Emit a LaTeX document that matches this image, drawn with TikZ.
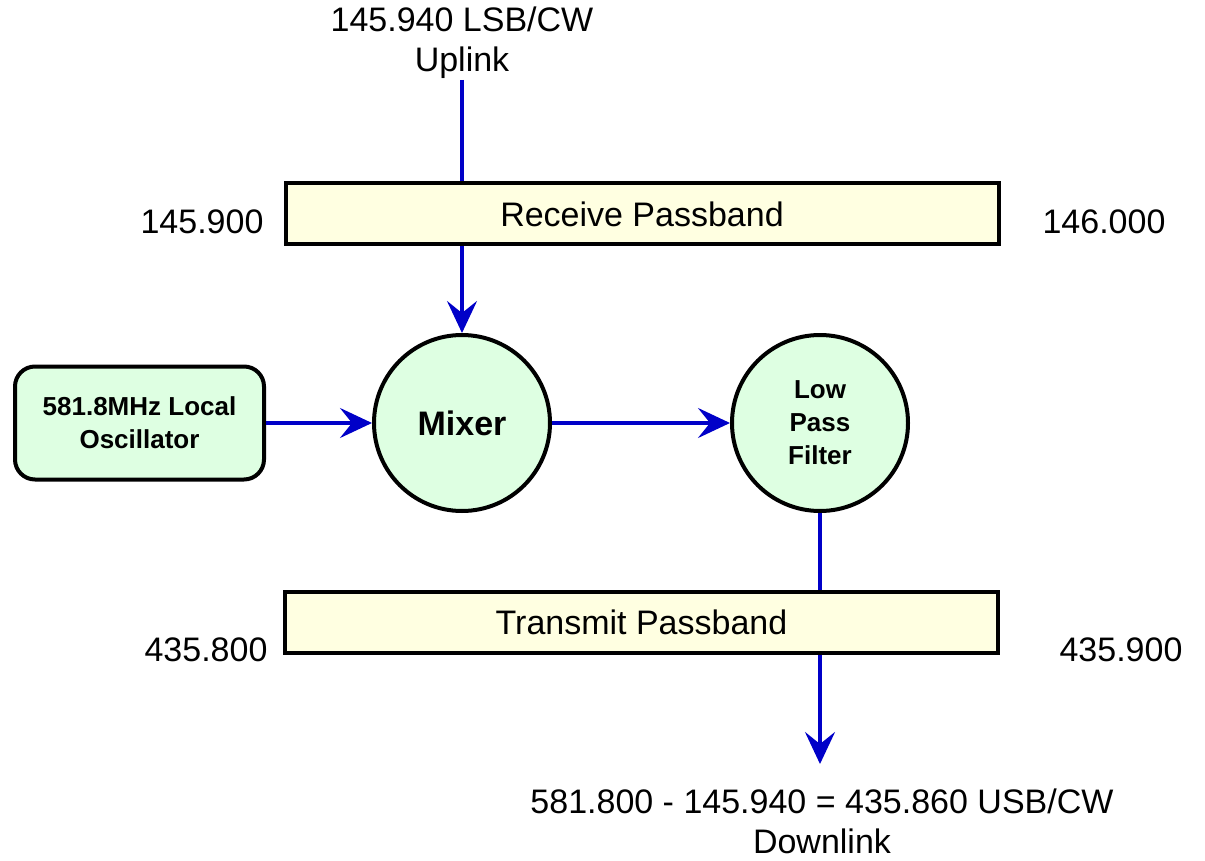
\documentclass[tikz,border=0pt]{standalone}
\usepackage{fontspec}
\setmainfont{Liberation Sans}
\usetikzlibrary{arrows.meta}
\definecolor{sigblue}{RGB}{0,0,200}
\definecolor{bandfill}{RGB}{255,255,225}
\definecolor{nodefill}{RGB}{222,255,226}
\begin{document}
\begin{tikzpicture}[x=1pt,y=-1pt,
  band/.style={draw=black,line width=4pt,fill=bandfill,minimum width=713pt,minimum height=61pt,inner sep=0pt,font=\fontsize{34}{41}\selectfont},
  disc/.style={circle,draw=black,line width=4pt,fill=nodefill,minimum size=176pt,inner sep=0pt},
  osc/.style={draw=black,line width=4pt,fill=nodefill,rounded corners=20pt,minimum width=249pt,minimum height=113pt,inner sep=0pt,align=center,font=\bfseries\fontsize{26}{33}\selectfont},
  lbl/.style={font=\fontsize{34}{40}\selectfont,align=center,inner sep=0pt},
  sig/.style={draw=sigblue,line width=3.5pt},
  sigarrow/.style={sig,-{Stealth[length=32pt,width=30pt,inset=12pt]}}
]
\useasboundingbox (0,0) rectangle (1205,861);
\node[band] (rx) at (642,214) {Receive Passband};
\node[band] (tx) at (641.5,622) {Transmit Passband};
\node[lbl] (rxlo) at (202,222) {145.900};
\node[lbl] (rxhi) at (1104,222) {146.000};
\node[lbl] (txlo) at (206,650) {435.800};
\node[lbl] (txhi) at (1121,650) {435.900};
\node[lbl,anchor=south] (up) at (462,79) {145.940 LSB/CW\\Uplink};
\node[lbl,anchor=north] (down) at (822,789) {581.800 - 145.940 = 435.860 USB/CW\\Downlink};
\node[disc,font=\bfseries\fontsize{34}{34}\selectfont] (mix) at (462,423) {Mixer};
\node[disc,align=center,font=\bfseries\fontsize{26}{33}\selectfont] (lpf) at (820,423) {Low\\Pass\\Filter};
\node[osc] (lo) at (139.5,423) {581.8MHz Local\\Oscillator};
\coordinate (upin) at (462,80);
\coordinate (dnout) at (820,764);
\draw[sig] (upin) -- (upin |- rx.north);
\draw[sigarrow] (rx.south -| upin) -- (mix.north);
\draw[sigarrow] (lo.east) -- (mix.west);
\draw[sigarrow] (mix.east) -- (lpf.west);
\draw[sig] (lpf.south) -- (lpf.south |- tx.north);
\draw[sigarrow] (tx.south -| dnout) -- (dnout);
\end{tikzpicture}
\end{document}
